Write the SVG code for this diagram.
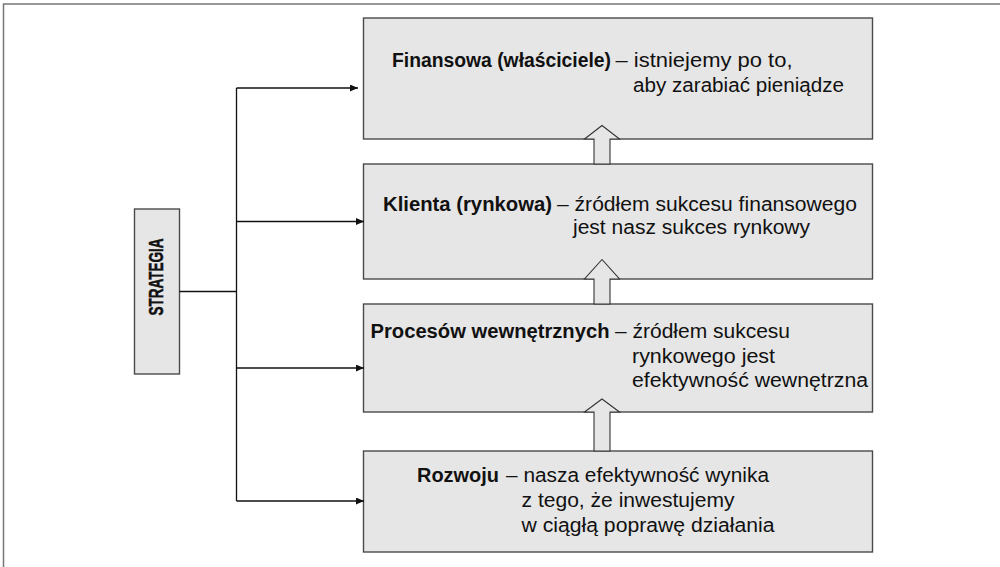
<svg xmlns="http://www.w3.org/2000/svg" width="1000" height="567" viewBox="0 0 1000 567">
  <style>
    .box { fill: #e6e6e6; stroke: #4a4a4a; stroke-width: 1.4; }
    .lbl { font-family: "Liberation Sans", Arial, Helvetica, sans-serif; font-size: 20px; fill: #111; }
    .b { font-weight: bold; }
    .side { font-size: 20.5px; stroke: #111; stroke-width: 0.5; }
    .wire { fill: none; stroke: #111; stroke-width: 1.3; }
    .up { fill: #e6e6e6; stroke: #333; stroke-width: 1.1; stroke-linejoin: miter; }
  </style>
  <defs>
    <marker id="tip" markerUnits="userSpaceOnUse" markerWidth="9" markerHeight="8" refX="8" refY="3.5" orient="auto">
      <path d="M0,0 L8,3.5 L0,7 Z" fill="#111"/>
    </marker>
  </defs>

  <rect width="1000" height="567" fill="#fff"/>
  <!-- outer frame (top and left edges) -->
  <path d="M3.5,567 V4 H1000" fill="none" stroke="#777" stroke-width="1.5"/>

  <g id="strategia">
    <rect class="box" x="134.5" y="209" width="45" height="165"/>
    <text class="lbl b side" transform="translate(163,277) rotate(-90)" text-anchor="middle" textLength="77" lengthAdjust="spacingAndGlyphs">STRATEGIA</text>
  </g>

  <g id="finansowa">
    <rect class="box" x="363.5" y="18" width="509" height="121"/>
    <text class="lbl b" x="392" y="67" textLength="219" lengthAdjust="spacingAndGlyphs">Finansowa (właściciele)</text>
    <text class="lbl" x="615.5" y="67" textLength="177" lengthAdjust="spacingAndGlyphs">– istniejemy po to,</text>
    <text class="lbl" x="633" y="91.5" textLength="211" lengthAdjust="spacingAndGlyphs">aby zarabiać pieniądze</text>
  </g>

  <g id="klienta">
    <rect class="box" x="363.5" y="164" width="509" height="115"/>
    <text class="lbl b" x="383" y="210.5" textLength="169" lengthAdjust="spacingAndGlyphs">Klienta (rynkowa)</text>
    <text class="lbl" x="557" y="210.5" textLength="300" lengthAdjust="spacingAndGlyphs">– źródłem sukcesu finansowego</text>
    <text class="lbl" x="573" y="234" textLength="237" lengthAdjust="spacingAndGlyphs">jest nasz sukces rynkowy</text>
  </g>

  <g id="procesy">
    <rect class="box" x="363.5" y="304" width="509" height="108"/>
    <text class="lbl b" x="370.5" y="338" textLength="239" lengthAdjust="spacingAndGlyphs">Procesów wewnętrznych</text>
    <text class="lbl" x="615" y="338" textLength="175" lengthAdjust="spacingAndGlyphs">– źródłem sukcesu</text>
    <text class="lbl" x="632" y="362.5" textLength="143" lengthAdjust="spacingAndGlyphs">rynkowego jest</text>
    <text class="lbl" x="632" y="387" textLength="236" lengthAdjust="spacingAndGlyphs">efektywność wewnętrzna</text>
  </g>

  <g id="rozwoj">
    <rect class="box" x="363.5" y="451" width="509" height="101"/>
    <text class="lbl b" x="417" y="481.5" textLength="82" lengthAdjust="spacingAndGlyphs">Rozwoju</text>
    <text class="lbl" x="506" y="481.5" textLength="263" lengthAdjust="spacingAndGlyphs">– nasza efektywność wynika</text>
    <text class="lbl" x="521.5" y="506.5" textLength="213" lengthAdjust="spacingAndGlyphs">z tego, że inwestujemy</text>
    <text class="lbl" x="521.5" y="531.5" textLength="253" lengthAdjust="spacingAndGlyphs">w ciągłą poprawę działania</text>
  </g>

  <g id="connectors">
    <path class="wire" d="M179.5,291.5 H236.5"/>
    <path class="wire" d="M236.5,88 V501"/>
    <path class="wire" d="M236.5,88 H358" marker-end="url(#tip)"/>
    <path class="wire" d="M236.5,221.5 H364" marker-end="url(#tip)"/>
    <path class="wire" d="M236.5,368 H364" marker-end="url(#tip)"/>
    <path class="wire" d="M236.5,501 H364" marker-end="url(#tip)"/>
    <!-- hollow upward arrows between stacked boxes -->
    <path class="up" d="M602,125.5 L584.5,139 H594 V164 H610 V139 H619.5 Z"/>
    <path class="up" d="M602,259.5 L584.5,279 H594 V304 H610 V279 H619.5 Z"/>
    <path class="up" d="M602,399 L584.5,412 H594 V451 H610 V412 H619.5 Z"/>
  </g>
</svg>
